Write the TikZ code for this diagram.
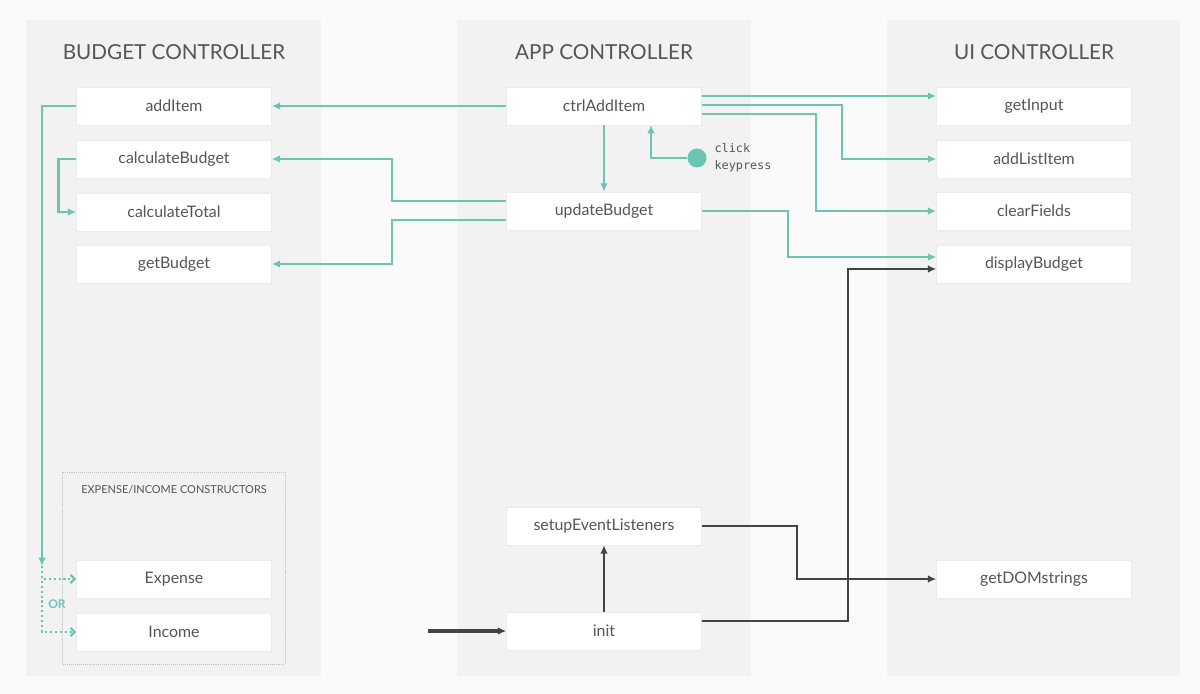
\documentclass[tikz,border=0pt]{standalone}
\usepackage{fontspec}
\setmainfont{Lato}
\setmonofont{DejaVu Sans Mono}
\usetikzlibrary{positioning,arrows.meta}
\definecolor{tealline}{HTML}{6CC4B5}
\definecolor{ink}{HTML}{444444}
\definecolor{txt}{HTML}{555555}
\tikzstyle{func} = [rectangle, minimum width=195*0.025cm, minimum height=38*0.025cm, text centered, draw=black!8, fill=white, text=txt, font=\fontsize{11.3}{13}\selectfont]
\tikzstyle{panel} = [fill=black!5, draw=none]
\tikzstyle{title} = [text=txt, font=\fontsize{14.7}{17}\selectfont]
\tikzstyle{flow} = [tealline, line width=1.9pt, -{Latex[length=6pt,width=5.5pt]}]
\tikzstyle{dotflow} = [tealline, line width=1.5pt, dotted, -{Straight Barb[length=3pt]}]
\tikzstyle{darkflow} = [ink, line width=1.9pt, -{Latex[length=6pt,width=5.5pt]}]

\begin{document}
\begin{tikzpicture}[x=0.025cm, y=-0.025cm]

        \fill[black!2] (0,0) rectangle (1200,694);
        \useasboundingbox (0,0) rectangle (1200,694);
        \fill[panel] (26,20) rectangle (321,676);
        \fill[panel] (457,20) rectangle (751,676);
        \fill[panel] (887,20) rectangle (1180,676);
        \draw[black!25, densely dotted] (62,472) rectangle (285,664);

        \node (budgetTitle) [title] at (174,52) {BUDGET CONTROLLER};
        \node (appTitle) [title] at (604,52) {APP CONTROLLER};
        \node (uiTitle) [title] at (1034,52) {UI CONTROLLER};
        \node (ctorTitle) [text=txt, font=\fontsize{7.8}{9}\selectfont] at (174,490) {EXPENSE/INCOME CONSTRUCTORS};

        \node (addItem) [func] at (174,106) {addItem};
        \node (calculateBudget) [func] at (174,159) {calculateBudget};
        \node (calculateTotal) [func] at (174,212) {calculateTotal};
        \node (getBudget) [func] at (174,264) {getBudget};
        \node (expense) [func] at (174,579) {Expense};
        \node (income) [func] at (174,632) {Income};

        \node (ctrlAddItem) [func] at (604,106) {ctrlAddItem};
        \node (updateBudget) [func] at (604,211) {updateBudget};
        \node (setupEventListeners) [func] at (604,526) {setupEventListeners};
        \node (init) [func] at (604,631) {init};

        \node (getInput) [func] at (1034,106) {getInput};
        \node (addListItem) [func] at (1034,159) {addListItem};
        \node (clearFields) [func] at (1034,211) {clearFields};
        \node (displayBudget) [func] at (1034,264) {displayBudget};
        \node (getDOMstrings) [func] at (1034,579) {getDOMstrings};

        \node (event) [circle, fill=tealline, minimum size=19*0.025cm, inner sep=0] at (697,158) {};
        \node (eventText) [right=2pt of event, align=left, text=txt, font=\ttfamily\fontsize{8.4}{12}\selectfont] {click\\keypress};
        \node (orText) [text=tealline, font=\bfseries\fontsize{8.5}{9}\selectfont] at (57,604) {OR};
        \coordinate (start) at (428,631);
        \coordinate (split) at (42,566);

        \draw [flow] (ctrlAddItem) -- (addItem);
        \draw [flow] (addItem.west) -| (split);
        \draw [dotflow] (split) |- (expense.west);
        \draw [dotflow] (split) |- (income.west);
        \draw [flow] (calculateBudget.west) -- ++(-18,0) |- (calculateTotal.west);
        \draw [flow] ([yshift=10*0.025cm]updateBudget.west) -| (392,159) -- (calculateBudget.east);
        \draw [flow] ([yshift=-9*0.025cm]updateBudget.west) -| (392,264) -- (getBudget.east);
        \draw [flow] (ctrlAddItem) -- (updateBudget);
        \draw [flow] (event) -| (651,125);
        \draw [flow] (702,96) -- (getInput.west |- 0,96);
        \draw [flow] (702,105) -| (842,159) -- (addListItem.west);
        \draw [flow] (702,114) -| (816,211) -- (clearFields.west);
        \draw [flow] (updateBudget.east) -| (788,257) -- (displayBudget.west |- 0,257);

        \draw [darkflow] (init.east |- 0,621) -| (848,269) -- (displayBudget.west |- 0,269);
        \draw [darkflow] (setupEventListeners.east) -| (797,579) -- (getDOMstrings.west);
        \draw [darkflow] (init) -- (setupEventListeners);
        \draw [darkflow, line width=2.6pt] (start) -- (init);

    \end{tikzpicture}
\end{document}
